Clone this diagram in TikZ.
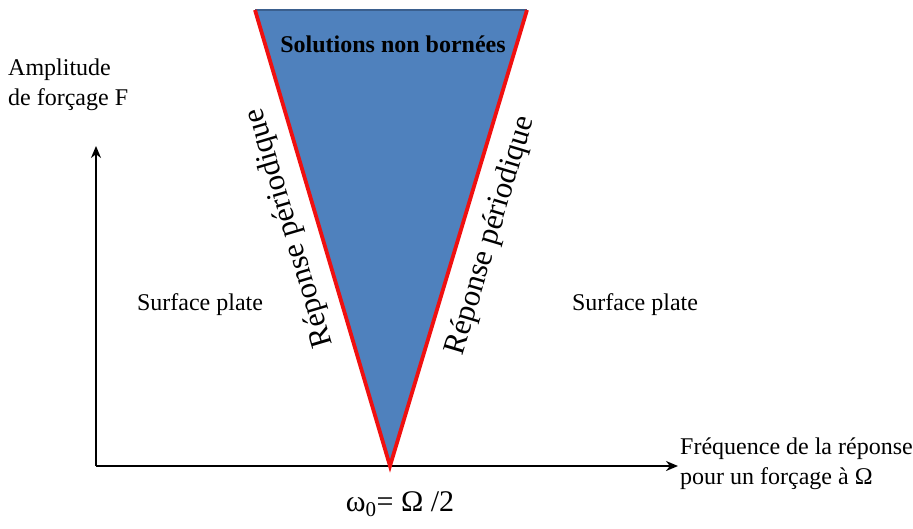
\documentclass[tikz,border=0pt]{standalone}
\usepackage{fontspec}
\setmainfont{Liberation Serif}
\usetikzlibrary{arrows.meta}
\definecolor{fillblue}{HTML}{4F81BD}
\definecolor{edgeblue}{HTML}{3A5F8E}
\definecolor{redline}{HTML}{F01010}
\begin{document}
\begin{tikzpicture}[x=1pt,y=-1pt,
  axis/.style={line width=2.8pt,-{Stealth[length=12pt,width=10pt]}},
  lbl/.style={inner sep=0pt,font=\fontsize{24}{30}\selectfont},
  rot/.style={inner sep=0pt,font=\fontsize{31}{36}\selectfont}]
\useasboundingbox (0,0) rectangle (913,528);
\coordinate (TL) at (255,10);
\coordinate (TR) at (527,10);
\coordinate (B) at (390,466);
\coordinate (O) at (96,466);
\coordinate (YT) at (96,146);
\coordinate (XT) at (678,466);
\fill[fillblue] (TL) -- (TR) -- (B) -- cycle;
\draw[edgeblue,line width=1.5pt] (TL) -- (TR);
\draw[axis] (O) -- (YT);
\draw[axis] (O) -- (XT);
\draw[redline,line width=3.8pt,line join=miter] (TL) -- (B) -- (TR);
\node[lbl,font=\fontsize{24}{30}\selectfont\bfseries] (sol) at (393,44) {Solutions non bornées};
\node[lbl,anchor=north west,align=left] (amp) at (8,59) {Amplitude\\de forçage F};
\node[lbl] (sl) at (200,305) {Surface plate};
\node[lbl] (sr) at (635,305) {Surface plate};
\node[rot,rotate=106.5] (rl) at (290,228) {Réponse périodique};
\node[rot,rotate=73.3] (rr) at (491,236) {Réponse périodique};
\node[lbl,anchor=north west,align=left] (freq) at (680,438) {Fréquence de la réponse\\pour un forçage à Ω};
\node[lbl,font=\fontsize{30}{34}\selectfont] (om) at (400,504) {ω\textsubscript{0}= Ω /2};
\end{tikzpicture}
\end{document}
